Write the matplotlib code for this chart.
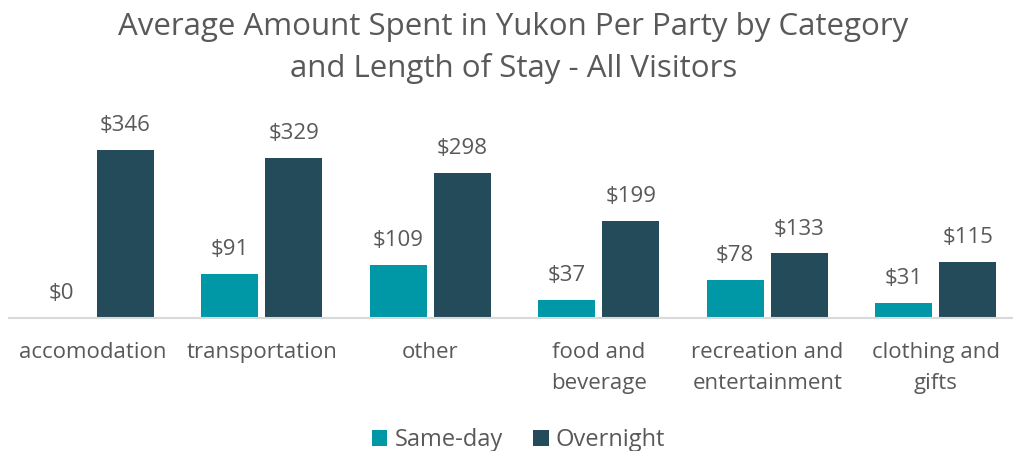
import numpy as np
import matplotlib.pyplot as plt

categories = ['accomodation', 'transportation', 'other', 'food and\nbeverage',
              'recreation and\nentertainment', 'clothing and\ngifts']
same_day = [0, 91, 109, 37, 78, 31]
overnight = [346, 329, 298, 199, 133, 115]

plt.rcParams['font.family'] = ['Open Sans', 'DejaVu Sans']
grey = '#595959'

fig = plt.figure(figsize=(10.13, 4.51), dpi=100)
ax = fig.add_axes([9/1013, 133/451, 1011/1013, 218/451])

x = np.arange(len(categories))
w = 0.34
gap = 0.02
b1 = ax.bar(x - w/2 - gap, same_day, w, color='#0097A7', label='Same-day')
b2 = ax.bar(x + w/2 + gap, overnight, w, color='#244B5A', label='Overnight')

for bars in (b1, b2):
    for b in bars:
        ax.annotate('${:.0f}'.format(b.get_height()),
                    (b.get_x() + b.get_width()/2, b.get_height()),
                    xytext=(0, 10), textcoords='offset points',
                    ha='center', va='bottom', fontsize=16, color=grey)

ax.set_xlim(-0.5, 5.5)
ax.set_ylim(0, 449)
ax.set_yticks([])
ax.set_xticks(x)
ax.set_xticklabels(categories, fontsize=16, color=grey, linespacing=1.65)
ax.tick_params(axis='x', length=0, pad=17)
for s in ['top', 'right', 'left']:
    ax.spines[s].set_visible(False)
ax.spines['bottom'].set_color('#d9d9d9')
ax.spines['bottom'].set_linewidth(1.5)

fig.text(0.507, 0.893, 'Average Amount Spent in Yukon Per Party by Category\nand Length of Stay - All Visitors',
         ha='center', va='center', fontsize=22.5, color=grey, linespacing=1.45)

fig.legend(loc='center', bbox_to_anchor=(0.512, 0.024), ncol=2, frameon=False,
           fontsize=17, labelcolor=grey, handlelength=0.65, handleheight=0.65,
           handletextpad=0.3, columnspacing=1.3)

fig.savefig('out.png', dpi=100)
